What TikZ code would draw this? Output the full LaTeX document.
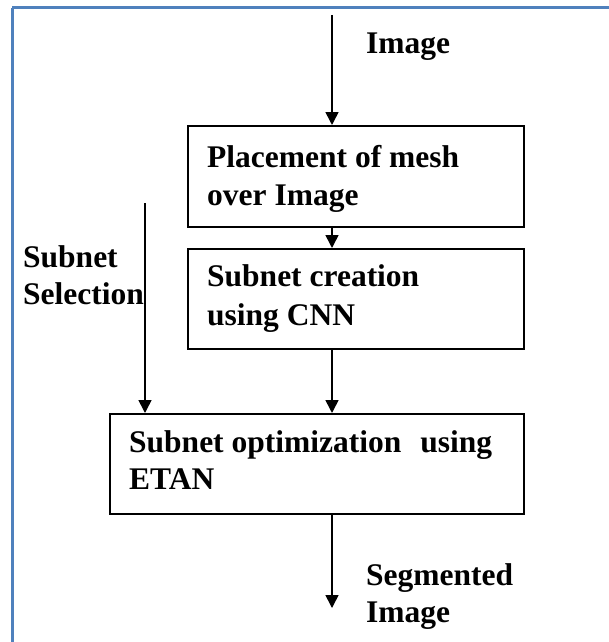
\documentclass[tikz,border=0pt]{standalone}
\usepackage{fontspec}
\setmainfont{Liberation Serif}
\usetikzlibrary{arrows.meta}
\definecolor{frameblue}{HTML}{4F81BD}
\tikzset{
  boxnode/.style={draw=black, line width=1.6pt, rectangle, inner sep=0pt},
  lbl/.style={inner sep=0pt, anchor=base west, font=\fontsize{31.5}{38}\selectfont\bfseries},
  arr/.style={line width=1.6pt, -{Triangle[length=13pt,width=13pt]}},
}
\begin{document}
\begin{tikzpicture}[x=1pt,y=-1pt]
\useasboundingbox (0,0) rectangle (609,642);
\clip (0,0) rectangle (609,642);
\fill[white] (0,0) rectangle (609,642);
\draw[frameblue, line width=3pt] (12,8) -- (700,8);
\draw[frameblue, line width=3pt] (12,8) -- (12,700);

% boxes
\node[boxnode, minimum width=336pt, minimum height=101pt, anchor=north west] (b1) at (187,125) {};
\node[boxnode, minimum width=336pt, minimum height=100pt, anchor=north west] (b2) at (187,248) {};
\node[boxnode, minimum width=414pt, minimum height=100pt, anchor=north west] (b3) at (109,413) {};

% texts
\node[lbl] (t1a) at (207,167) {Placement of mesh};
\node[lbl] (t1b) at (207,205) {over Image};
\node[lbl] (t2a) at (207,286) {Subnet creation};
\node[lbl] (t2b) at (207,325) {using CNN};
\node[lbl] (t3a) at (129,452) {Subnet optimization\hspace{0.35em} using};
\node[lbl] (t3b) at (129,489) {ETAN};
\node[lbl] (inA) at (366,54) {Image};
\node[lbl] (selA) at (23,267) {Subnet};
\node[lbl] (selB) at (23,304) {Selection};
\node[lbl] (outA) at (366,585) {Segmented};
\node[lbl] (outB) at (366,622) {Image};

% connectors
\coordinate (topstart) at (332,15);
\coordinate (selstart) at (145,203);
\coordinate (outend) at (332,608);
\draw[arr] (topstart) -- (b1.north -| topstart);
\draw[arr] (b1.south -| topstart) -- (b2.north -| topstart);
\draw[arr] (b2.south -| topstart) -- (b3.north -| topstart);
\draw[arr] (selstart) -- (b3.north -| selstart);
\draw[arr] (b3.south -| outend) -- (outend);
\end{tikzpicture}
\end{document}
